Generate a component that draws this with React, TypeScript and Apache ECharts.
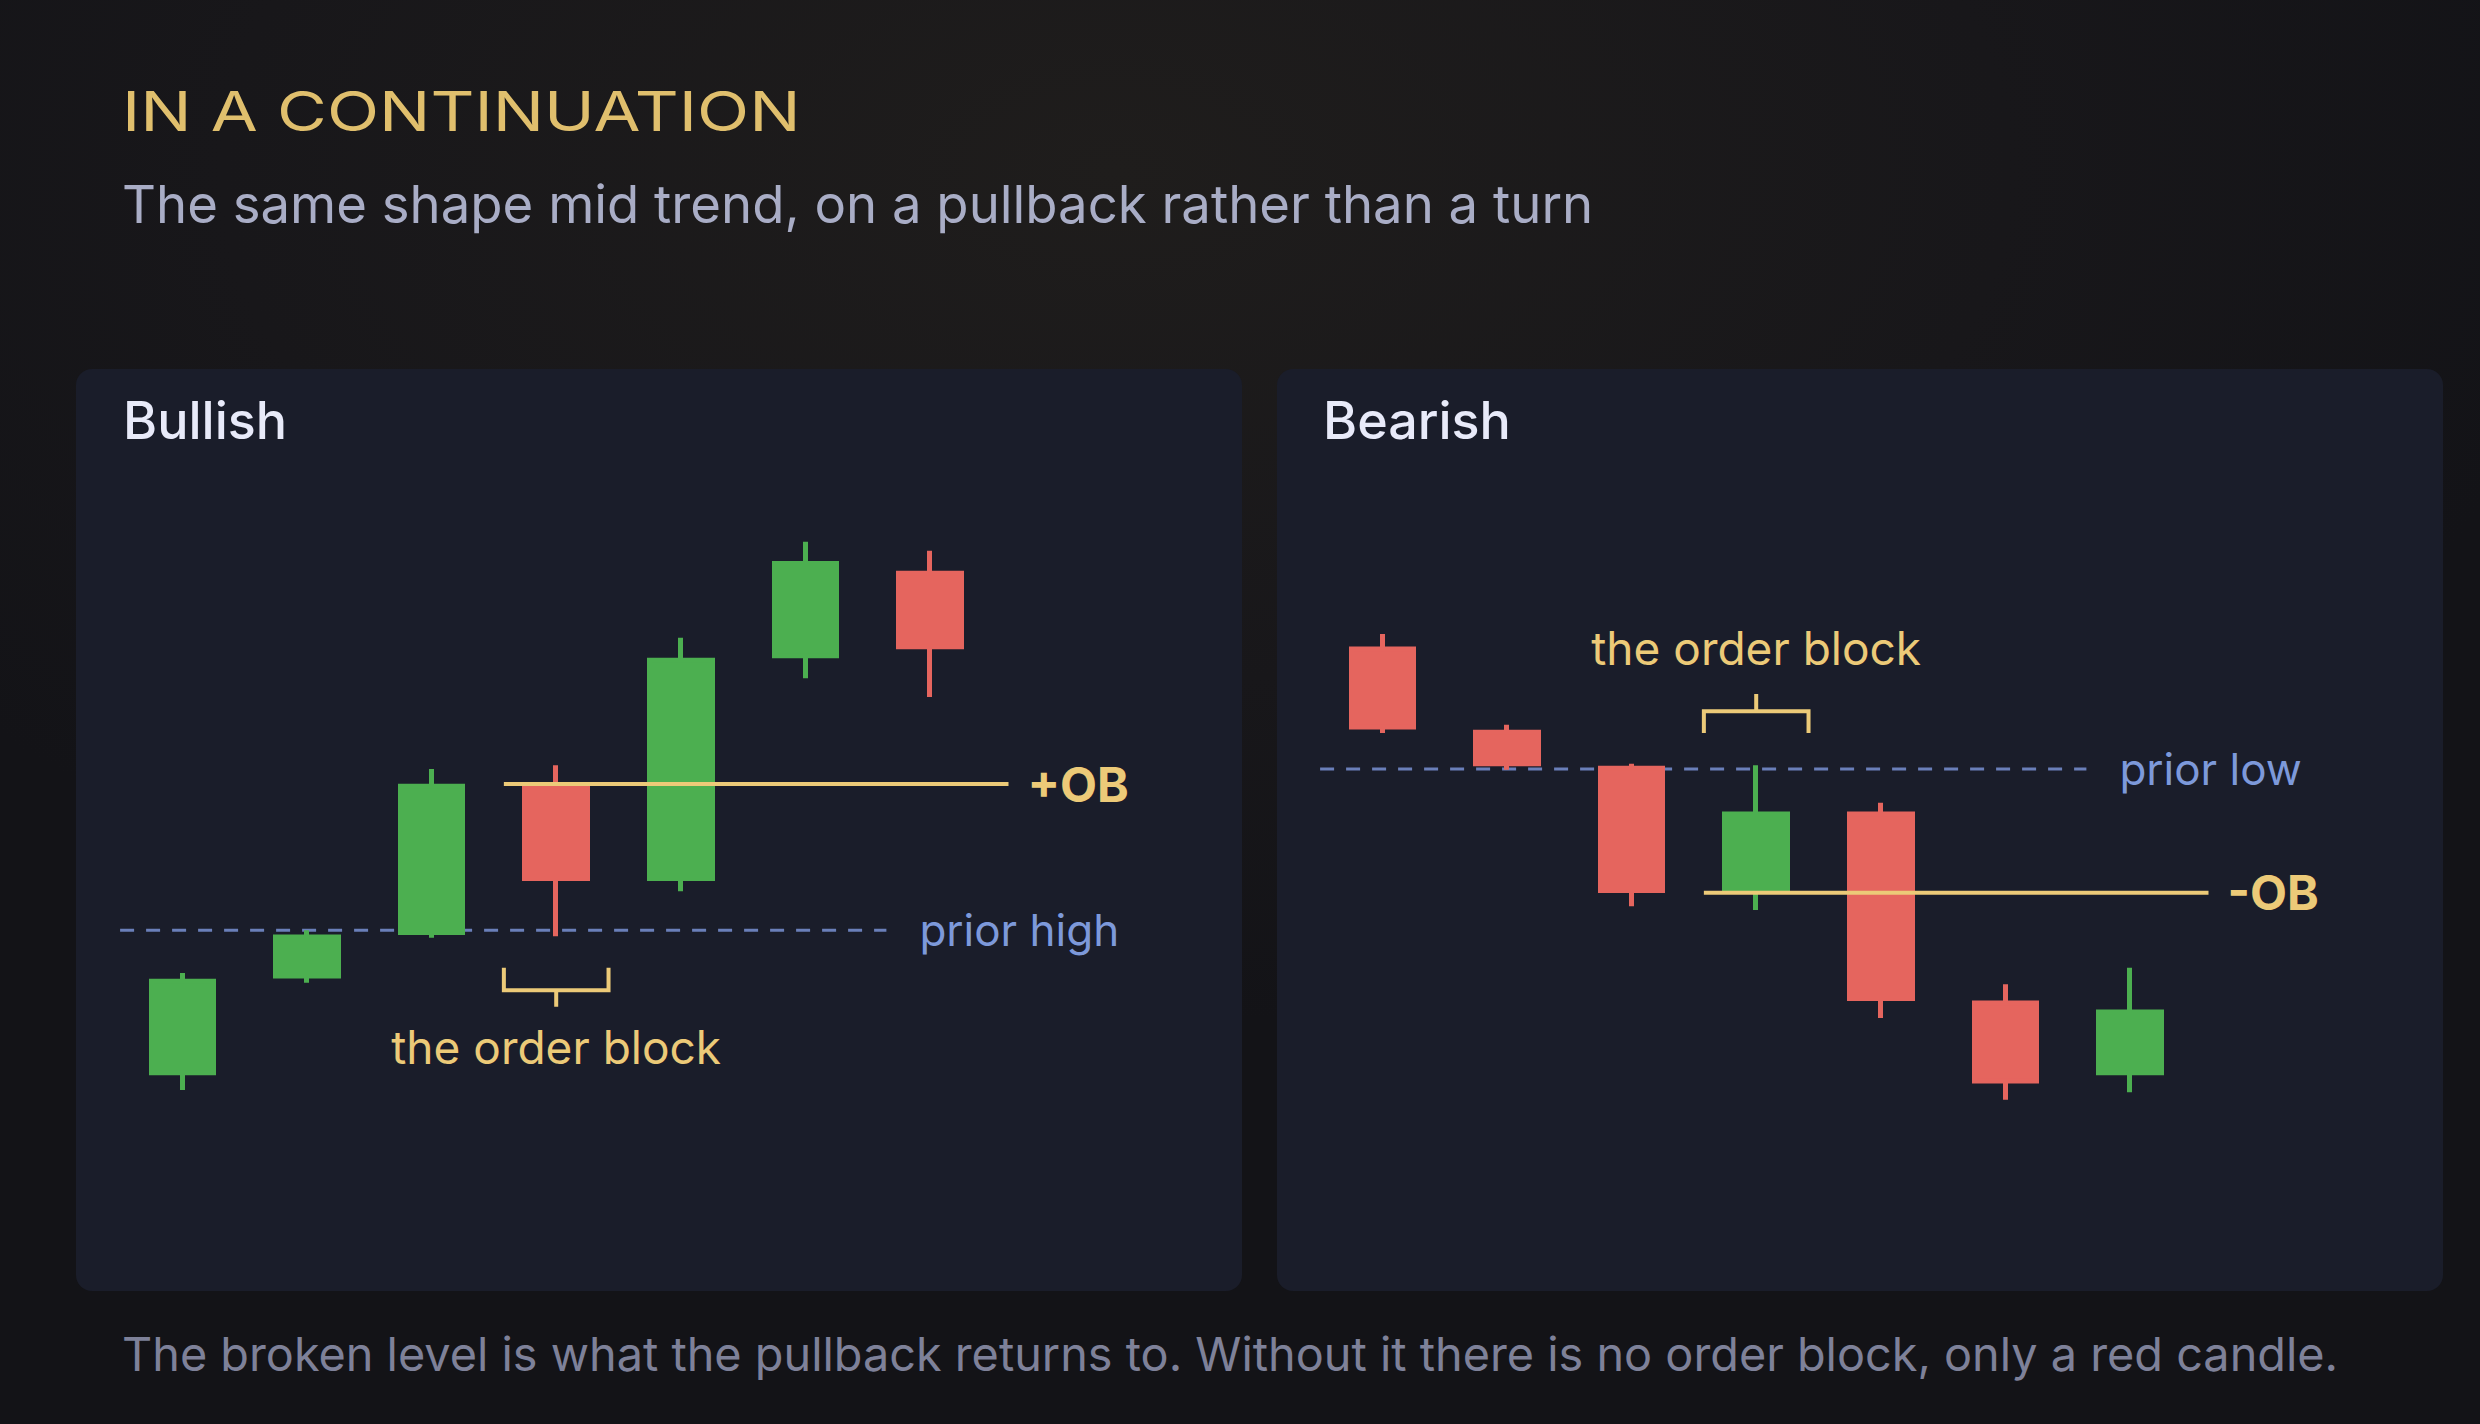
import React, { useEffect, useRef } from "react";
import * as echarts from "echarts";

// ---------- data ----------
const candleIndex = [0, 1, 2, 3, 4, 5, 6];

// Bullish panel: open / close / low / high
const bullOpen = [22.3, 35.2, 41.0, 60.5, 48.2, 77.9, 88.9];
const bullClose = [34.5, 40.4, 60.5, 48.2, 77.3, 90.2, 79.1];
const bullLow = [20.0, 34.3, 40.3, 40.5, 46.5, 74.9, 72.4];
const bullHigh = [35.6, 41.3, 62.8, 63.3, 80.3, 93.1, 91.9];
const bullOB = 60.8;
const bullPriorHigh = 41.3;

// Bearish panel: open / close / low / high
const bearOpen = [78.8, 67.7, 62.9, 46.8, 56.8, 31.6, 22.3];
const bearClose = [68.4, 63.5, 46.6, 56.8, 32.2, 21.2, 30.4];
const bearLow = [67.6, 62.7, 44.5, 44.0, 29.6, 18.7, 19.7];
const bearHigh = [80.8, 68.7, 63.5, 63.3, 58.3, 34.1, 36.3];
const bearOB = 46.3;
const bearPriorLow = 62.8;

// order-block candle index and annotation extents (data units)
const obCandle = 3;
const obLineX = [2.58, 6.63];
const priorLineX = [-0.5, 5.65];
const bracketHalf = 0.42;
// bracket levels: [leg end, bar, tick end], label centre
const bullBracketY = [36.3, 33.3, 31.1];
const bullLabelY = 25.7;
const bearBracketY = [67.6, 70.5, 72.8];
const bearLabelY = 78.9;

// texts
const titleText = "IN A CONTINUATION";
const subtitleText = "The same shape mid trend, on a pullback rather than a turn";
const footerText =
  "The broken level is what the pullback returns to. Without it there is no order block, only a red candle.";
const panelTitles = ["Bullish", "Bearish"];

// ---------- styles ----------
const FONT = "Inter, 'Liberation Sans', Arial, sans-serif";
const GREEN = "#4caf50";
const RED = "#e5655e";
const GOLD = "#ecca78";
const BLUE_LINE = "#6a7fb9";
const BLUE_TEXT = "#7d99da";
const PANEL = "#1a1d2a";

function candles(o: number[], c: number[], l: number[], h: number[]) {
  return candleIndex.map((i) => [i, o[i], c[i], l[i], h[i]]);
}

function panelSeries(
  g: number,
  data: number[][],
  ob: number,
  obLabel: string,
  prior: number,
  priorLabel: string,
  bracketY: number[],
  labelY: number
) {
  const axes = { xAxisIndex: g, yAxisIndex: g };
  const x0 = obCandle - bracketHalf;
  const x1 = obCandle + bracketHalf;
  return [
    {
      type: "line",
      ...axes,
      z: 1,
      silent: true,
      symbol: "none",
      data: [
        [priorLineX[0], prior],
        [priorLineX[1], prior],
      ],
      lineStyle: { color: BLUE_LINE, width: 3, type: [14, 12] },
      endLabel: {
        show: true,
        formatter: priorLabel,
        color: BLUE_TEXT,
        fontSize: 44,
        fontFamily: FONT,
        distance: 33,
      },
    },
    {
      type: "candlestick",
      ...axes,
      z: 3,
      silent: true,
      encode: { x: 0, y: [1, 2, 3, 4] },
      barWidth: 63,
      data,
      itemStyle: {
        color: GREEN,
        color0: RED,
        borderColor: GREEN,
        borderColor0: RED,
        borderWidth: 5,
      },
    },
    {
      type: "line",
      ...axes,
      z: 5,
      silent: true,
      symbol: "none",
      data: [
        [obLineX[0], ob],
        [obLineX[1], ob],
      ],
      lineStyle: { color: GOLD, width: 4 },
      endLabel: {
        show: true,
        formatter: obLabel,
        color: GOLD,
        fontSize: 48,
        fontWeight: 700,
        fontFamily: FONT,
        distance: 19,
      },
    },
    {
      type: "line",
      ...axes,
      z: 5,
      silent: true,
      symbol: "none",
      data: [
        [x0, bracketY[0]],
        [x0, bracketY[1]],
        [x1, bracketY[1]],
        [x1, bracketY[0]],
      ],
      lineStyle: { color: GOLD, width: 4, cap: "butt", join: "miter" },
    },
    {
      type: "line",
      ...axes,
      z: 5,
      silent: true,
      symbol: "none",
      data: [
        [obCandle, bracketY[1]],
        [obCandle, bracketY[2]],
      ],
      lineStyle: { color: GOLD, width: 4 },
    },
    {
      type: "scatter",
      ...axes,
      z: 6,
      silent: true,
      symbolSize: 0,
      itemStyle: { opacity: 1 },
      data: [[obCandle, labelY]],
      label: {
        show: true,
        position: "inside",
        formatter: "the order block",
        color: GOLD,
        opacity: 1,
        fontSize: 46,
        fontFamily: FONT,
      },
    },
  ];
}

function buildOption() {
  const gridLefts = [57.8, 1257.8];
  const grids = gridLefts.map((left) => ({
    left,
    top: 490,
    width: 1121.4,
    height: 750,
    containLabel: false,
  }));
  const xAxes = gridLefts.map((_, i) => ({
    type: "value",
    gridIndex: i,
    min: -1,
    max: 8,
    show: false,
  }));
  const yAxes = gridLefts.map((_, i) => ({
    type: "value",
    gridIndex: i,
    min: 0,
    max: 100,
    show: false,
  }));

  const panelRects = [76, 1277].map((x) => ({
    type: "rect",
    z: 0,
    silent: true,
    shape: { x, y: 369, width: 1166, height: 922, r: 16 },
    style: { fill: PANEL },
  }));

  const panelTitleTexts = panelTitles.map((t, i) => ({
    type: "text",
    z: 1,
    silent: true,
    x: [123, 1323][i],
    y: 420,
    style: {
      text: t,
      fill: "#e8eaf9",
      font: `500 52px ${FONT}`,
      verticalAlign: "middle",
    },
  }));

  return {
    animation: false,
    backgroundColor: "#141418",
    graphic: [
      {
        type: "rect",
        z: -1,
        silent: true,
        shape: { x: 0, y: 0, width: 2480, height: 1424 },
        style: {
          fill: {
            type: "radial",
            x: 0.45,
            y: 0.12,
            r: 0.6,
            colorStops: [
              { offset: 0, color: "#1f1d1c" },
              { offset: 0.6, color: "#18171a" },
              { offset: 1, color: "#131317" },
            ],
          },
        },
      },
      ...panelRects,
      ...panelTitleTexts,
      {
        type: "text",
        z: 1,
        silent: true,
        x: 122,
        y: 111,
        scaleX: 1.24,
        style: {
          text: titleText,
          fill: "#e0bf6d",
          font: `400 55px ${FONT}`,
          verticalAlign: "middle",
        },
      },
      {
        type: "text",
        z: 1,
        silent: true,
        x: 122,
        y: 204,
        style: {
          text: subtitleText,
          fill: "#a9adc6",
          font: `400 52.7px ${FONT}`,
          verticalAlign: "middle",
        },
      },
      {
        type: "text",
        z: 1,
        silent: true,
        x: 122,
        y: 1354,
        style: {
          text: footerText,
          fill: "#7e8199",
          font: `400 46.8px ${FONT}`,
          verticalAlign: "middle",
        },
      },
    ],
    grid: grids,
    xAxis: xAxes,
    yAxis: yAxes,
    series: [
      ...panelSeries(
        0,
        candles(bullOpen, bullClose, bullLow, bullHigh),
        bullOB,
        "+OB",
        bullPriorHigh,
        "prior high",
        bullBracketY,
        bullLabelY
      ),
      ...panelSeries(
        1,
        candles(bearOpen, bearClose, bearLow, bearHigh),
        bearOB,
        "-OB",
        bearPriorLow,
        "prior low",
        bearBracketY,
        bearLabelY
      ),
    ],
  };
}

export default function App() {
  const ref = useRef<HTMLDivElement>(null);
  useEffect(() => {
    document.body.style.margin = "0";
    const chart = echarts.init(ref.current as HTMLDivElement, undefined, {
      renderer: "svg",
    });
    chart.setOption(buildOption() as any);
    return () => chart.dispose();
  }, []);
  return (
    <div
      ref={ref}
      style={{ position: "fixed", left: 0, top: 0, width: 2480, height: 1424 }}
    />
  );
}
